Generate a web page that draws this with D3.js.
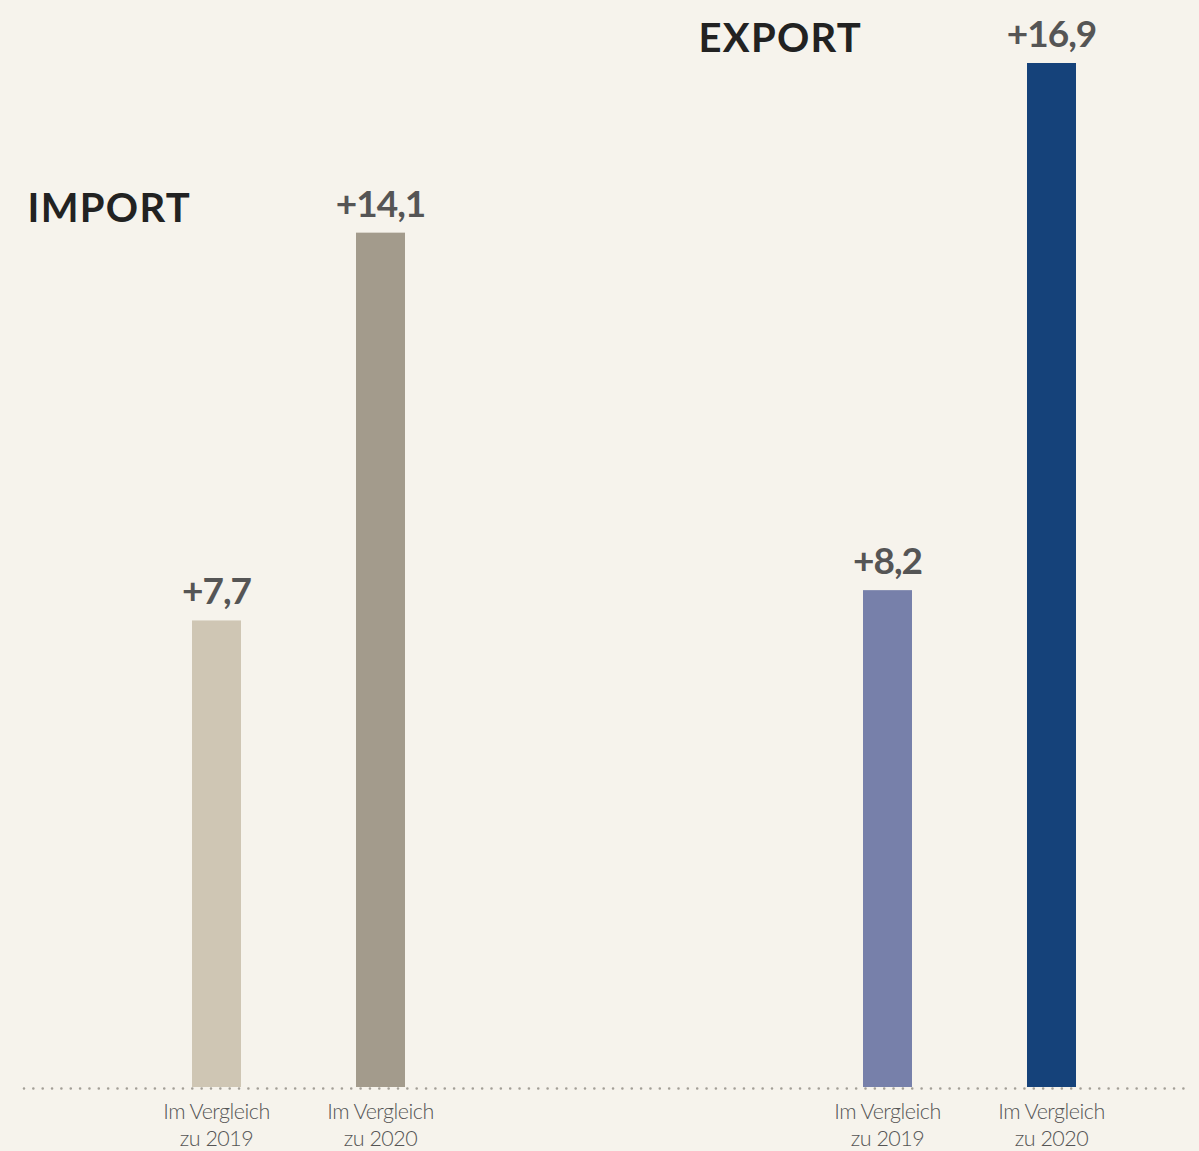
<!DOCTYPE html>
<html lang="de">
<head>
  <meta charset="utf-8">
  <title>Import / Export</title>
  <script src="https://d3js.org/d3.v7.min.js"></script>
  <style>
    html, body {
      margin: 0;
      padding: 0;
      width: 100%;
      height: 100%;
      background: #f6f3ec;
    }
    svg {
      display: block;
    }
    .value {
      font-family: Lato, sans-serif;
      font-weight: 700;
      font-size: 37px;
      letter-spacing: -1px;
      fill: #555555;
    }
    .title {
      font-family: Lato, sans-serif;
      font-weight: 700;
      font-size: 40px;
      letter-spacing: 1.3px;
      fill: #222222;
    }
    .cat {
      font-family: Lato, sans-serif;
      font-weight: 300;
      font-size: 21.5px;
      letter-spacing: -0.5px;
      fill: #555555;
    }
  </style>
</head>
<body>
  <svg></svg>
  <script>
    const width = 1199;
    const height = 1151;

    // Daten
    const groups = ["IMPORT", "EXPORT"];
    const periods = ["Im Vergleich|zu 2019", "Im Vergleich|zu 2020"];
    const importValues = [7.7, 14.1];
    const exportValues = [8.2, 16.9];
    const valueLabels = [["+7,7", "+14,1"], ["+8,2", "+16,9"]];
    const barColors = [["#cfc6b4", "#a39b8c"], ["#7780aa", "#15427a"]];

    const svg = d3.select("svg")
      .attr("width", width)
      .attr("height", height);

    const baseline = 1087;

    // Skalen
    const xGroup = d3.scalePoint().domain(groups).range([298.5, 969.5]);
    const xPeriod = d3.scalePoint().domain(periods).range([-82, 82]);
    const y = d3.scaleLinear().domain([0, 16.9]).range([baseline, 63]);
    const barWidth = 49;

    const data = [];
    groups.forEach((g, gi) => {
      const vals = gi === 0 ? importValues : exportValues;
      periods.forEach((p, pi) => {
        data.push({ group: g, period: p, value: vals[pi], label: valueLabels[gi][pi], color: barColors[gi][pi] });
      });
    });

    const cx = d => xGroup(d.group) + xPeriod(d.period);

    // Balken
    svg.append("g")
      .selectAll("rect")
      .data(data)
      .enter()
      .append("rect")
      .attr("x", d => cx(d) - barWidth / 2)
      .attr("y", d => y(d.value))
      .attr("width", barWidth)
      .attr("height", d => baseline - y(d.value))
      .attr("fill", d => d.color);

    // gepunktete Grundlinie
    svg.append("line")
      .attr("x1", 24)
      .attr("x2", 1192)
      .attr("y1", baseline + 1.5)
      .attr("y2", baseline + 1.5)
      .attr("stroke", "#a39f97")
      .attr("stroke-width", 2.6)
      .attr("stroke-linecap", "round")
      .attr("stroke-dasharray", "0 9.35");

    // Werte
    svg.append("g")
      .selectAll("text")
      .data(data)
      .enter()
      .append("text")
      .attr("class", "value")
      .attr("x", cx)
      .attr("y", d => y(d.value) - 16)
      .attr("text-anchor", "middle")
      .text(d => d.label);

    // Kategorien unter den Balken
    const cats = svg.append("g")
      .selectAll("text")
      .data(data)
      .enter()
      .append("text")
      .attr("class", "cat")
      .attr("text-anchor", "middle");
    cats.append("tspan")
      .attr("x", cx)
      .attr("y", 1119)
      .text(d => d.period.split("|")[0]);
    cats.append("tspan")
      .attr("x", cx)
      .attr("y", 1146)
      .text(d => d.period.split("|")[1]);

    // Titel
    svg.append("g")
      .selectAll("text")
      .data(groups)
      .enter()
      .append("text")
      .attr("class", "title")
      .attr("x", g => xGroup(g) - 271)
      .attr("y", (g, i) => {
        const vals = i === 0 ? importValues : exportValues;
        return y(d3.max(vals)) - 11;
      })
      .text(g => g);
  </script>
</body>
</html>
